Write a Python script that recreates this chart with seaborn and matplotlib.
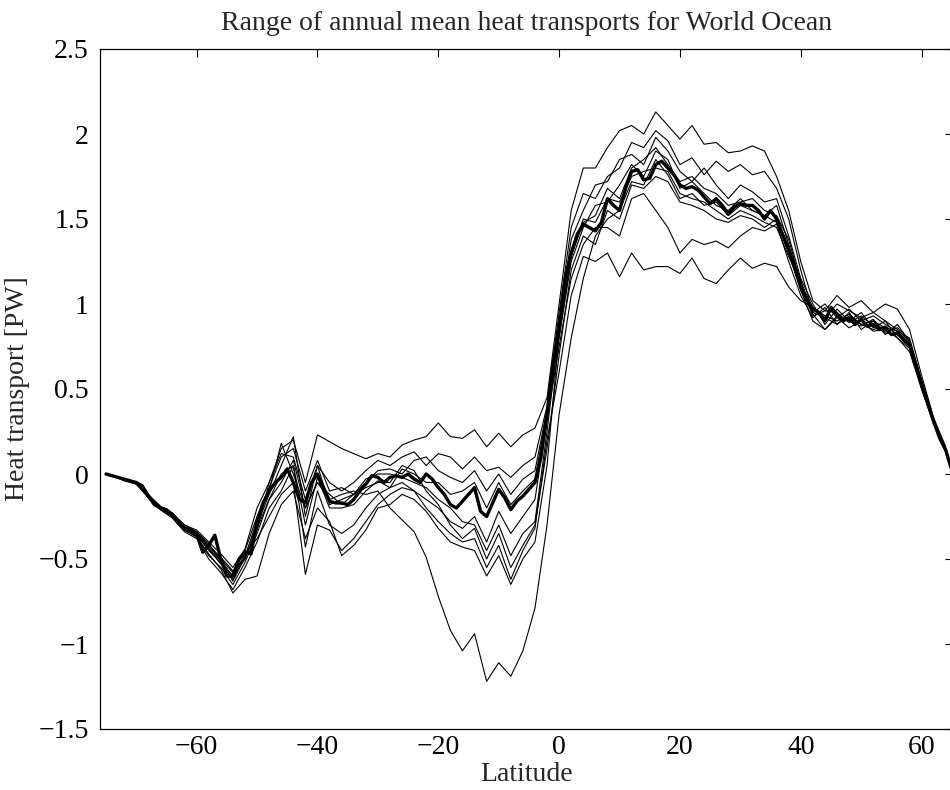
import numpy as np
import pandas as pd
import seaborn as sns
import matplotlib
matplotlib.use("Agg")
from matplotlib import pyplot as plt

# ensemble mean, 1 degree steps from -75 to 65
LAT_MEAN = np.arange(-75, 66, 1)
PW_MEAN = [
    0.00, -0.01, -0.02, -0.03, -0.04, -0.05, -0.07, -0.13, -0.18, -0.20,
    -0.21, -0.24, -0.29, -0.32, -0.33, -0.35, -0.46, -0.42, -0.36, -0.50,
    -0.60, -0.60, -0.50, -0.46, -0.47, -0.28, -0.17, -0.10, -0.05, -0.02,
    0.03, -0.05, -0.15, -0.17, -0.05, 0.00, -0.08, -0.16, -0.17, -0.17,
    -0.18, -0.15, -0.10, -0.06, -0.01, -0.02, -0.05, -0.02, -0.01, -0.02,
    0.00, -0.03, -0.05, 0.00, -0.03, -0.08, -0.12, -0.18, -0.20, -0.16,
    -0.12, -0.08, -0.22, -0.25, -0.17, -0.09, -0.14, -0.21, -0.16, -0.13,
    -0.09, -0.05, 0.10, 0.35, 0.65, 0.85, 1.15, 1.30, 1.41, 1.47,
    1.45, 1.43, 1.48, 1.62, 1.58, 1.55, 1.68, 1.78, 1.79, 1.73,
    1.74, 1.82, 1.84, 1.80, 1.76, 1.70, 1.68, 1.69, 1.67, 1.63,
    1.59, 1.62, 1.58, 1.53, 1.57, 1.59, 1.58, 1.58, 1.55, 1.50,
    1.55, 1.50, 1.41, 1.32, 1.22, 1.12, 1.02, 0.97, 0.95, 0.90,
    0.98, 0.94, 0.90, 0.92, 0.88, 0.91, 0.87, 0.88, 0.85, 0.86,
    0.82, 0.83, 0.79, 0.76, 0.65, 0.53, 0.42, 0.31, 0.21, 0.14,
    0.02,
]

# individual runs, 2 degree steps from -74 to 64
LAT_RUN = np.arange(-74, 65, 2)

RUN_1 = [
    -0.01, -0.03, -0.05, -0.13, -0.19, -0.23, -0.30, -0.33, -0.40, -0.47, -0.55, -0.44, -0.20,
    -0.05, 0.15, 0.20, -0.05, 0.23, 0.19, 0.15, 0.12, 0.09, 0.12, 0.10, 0.17,
    0.20, 0.22, 0.30, 0.22, 0.21, 0.26, 0.16, 0.24, 0.16, 0.23, 0.27, 0.45,
    1.00, 1.55, 1.80, 1.80, 1.92, 2.02, 2.05, 2.00, 2.13, 2.05, 1.97, 2.05,
    1.94, 1.95, 1.89, 1.90, 1.93, 1.90, 1.75, 1.55, 1.25, 1.02, 0.96, 1.05,
    0.98, 1.02, 0.95, 1.00, 0.97, 0.85, 0.58, 0.33, 0.16,
]
RUN_2 = [
    -0.01, -0.03, -0.05, -0.14, -0.21, -0.25, -0.33, -0.36, -0.45, -0.52, -0.62, -0.48, -0.30,
    -0.12, 0.05, 0.22, -0.25, 0.05, -0.05, -0.10, -0.05, 0.02, 0.08, 0.05, 0.10,
    0.13, 0.05, 0.12, 0.10, 0.03, 0.10, 0.02, 0.04, -0.02, 0.05, 0.10, 0.40,
    0.95, 1.45, 1.65, 1.62, 1.75, 1.80, 1.95, 1.92, 2.02, 1.96, 1.82, 1.86,
    1.76, 1.84, 1.78, 1.82, 1.76, 1.78, 1.68, 1.50, 1.20, 0.95, 1.00, 0.92,
    0.97, 0.90, 0.93, 0.88, 0.84, 0.80, 0.55, 0.31, 0.15,
]
RUN_3 = [
    -0.01, -0.03, -0.06, -0.13, -0.20, -0.24, -0.31, -0.34, -0.43, -0.50, -0.58, -0.45, -0.25,
    -0.08, 0.10, 0.15, -0.10, 0.08, -0.10, -0.08, -0.12, -0.05, 0.02, 0.03, 0.00,
    0.08, 0.10, 0.02, -0.02, -0.05, 0.02, -0.10, 0.00, -0.12, -0.03, 0.02, 0.38,
    0.90, 1.38, 1.55, 1.70, 1.72, 1.85, 1.88, 1.82, 1.98, 1.90, 1.78, 1.72,
    1.80, 1.70, 1.62, 1.70, 1.66, 1.60, 1.62, 1.40, 1.15, 1.00, 0.88, 0.97,
    0.90, 0.95, 0.86, 0.90, 0.80, 0.74, 0.50, 0.30, 0.13,
]
RUN_4 = [
    -0.01, -0.03, -0.05, -0.12, -0.19, -0.25, -0.33, -0.37, -0.48, -0.55, -0.65, -0.52, -0.35,
    -0.15, 0.00, 0.05, -0.30, -0.02, -0.20, -0.20, -0.18, -0.10, -0.04, -0.08, 0.03,
    0.00, -0.05, -0.05, -0.12, -0.10, -0.05, -0.20, -0.05, -0.18, -0.10, -0.03, 0.36,
    0.80, 1.25, 1.45, 1.58, 1.60, 1.70, 1.82, 1.75, 1.90, 1.85, 1.68, 1.72,
    1.65, 1.58, 1.55, 1.62, 1.55, 1.52, 1.58, 1.35, 1.10, 0.95, 0.92, 0.88,
    0.93, 0.88, 0.85, 0.87, 0.82, 0.75, 0.52, 0.30, 0.14,
]
RUN_5 = [
    -0.01, -0.04, -0.06, -0.14, -0.21, -0.26, -0.34, -0.38, -0.50, -0.58, -0.68, -0.55, -0.40,
    -0.20, -0.10, 0.05, -0.43, -0.10, -0.30, -0.35, -0.30, -0.20, -0.12, -0.08, -0.05,
    -0.10, -0.15, -0.20, -0.28, -0.32, -0.25, -0.40, -0.22, -0.35, -0.25, -0.15, 0.32,
    0.75, 1.15, 1.35, 1.45, 1.45, 1.40, 1.62, 1.65, 1.55, 1.45, 1.30, 1.38,
    1.35, 1.37, 1.33, 1.40, 1.45, 1.43, 1.47, 1.25, 1.05, 0.92, 0.98, 0.88,
    0.95, 0.85, 0.90, 0.82, 0.88, 0.78, 0.52, 0.30, 0.14,
]
RUN_6 = [
    -0.01, -0.03, -0.05, -0.13, -0.20, -0.23, -0.31, -0.35, -0.42, -0.49, -0.57, -0.50, -0.33,
    -0.05, 0.12, 0.10, -0.15, 0.05, -0.18, -0.15, -0.12, -0.03, 0.00, 0.00, -0.02,
    -0.05, -0.08, -0.15, -0.20, -0.28, -0.30, -0.45, -0.30, -0.48, -0.35, -0.28, 0.25,
    0.85, 1.30, 1.50, 1.48, 1.62, 1.60, 1.75, 1.78, 1.80, 1.78, 1.65, 1.62,
    1.60, 1.55, 1.50, 1.55, 1.52, 1.48, 1.45, 1.28, 1.12, 0.98, 0.93, 0.90,
    0.94, 0.88, 0.90, 0.86, 0.84, 0.77, 0.54, 0.31, 0.14,
]
RUN_7 = [
    -0.01, -0.03, -0.05, -0.13, -0.21, -0.24, -0.32, -0.36, -0.44, -0.53, -0.60, -0.47, -0.38,
    -0.25, -0.12, -0.05, -0.59, -0.30, -0.33, -0.45, -0.38, -0.28, -0.18, -0.12, -0.08,
    -0.10, -0.20, -0.28, -0.35, -0.40, -0.38, -0.55, -0.42, -0.62, -0.45, -0.32, 0.20,
    0.60, 1.05, 1.28, 1.25, 1.30, 1.16, 1.30, 1.20, 1.22, 1.22, 1.18, 1.27,
    1.15, 1.12, 1.20, 1.27, 1.21, 1.24, 1.22, 1.10, 1.02, 0.98, 0.92, 1.00,
    0.96, 0.92, 0.95, 0.90, 0.85, 0.78, 0.55, 0.32, 0.15,
]
RUN_8 = [
    -0.01, -0.03, -0.05, -0.12, -0.20, -0.25, -0.30, -0.34, -0.41, -0.51, -0.63, -0.49, -0.27,
    -0.10, 0.18, 0.00, -0.20, -0.05, -0.12, -0.18, -0.12, -0.08, -0.05, -0.05, 0.05,
    0.02, -0.10, -0.18, -0.30, -0.38, -0.32, -0.50, -0.35, -0.55, -0.42, -0.30, 0.15,
    0.70, 1.20, 1.40, 1.35, 1.55, 1.50, 1.70, 1.68, 1.75, 1.72, 1.60, 1.58,
    1.55, 1.50, 1.48, 1.52, 1.50, 1.45, 1.50, 1.30, 1.08, 0.90, 0.85, 0.92,
    0.86, 0.90, 0.84, 0.85, 0.80, 0.72, 0.50, 0.29, 0.13,
]
RUN_9 = [
    -0.01, -0.03, -0.05, -0.13, -0.19, -0.24, -0.33, -0.37, -0.47, -0.56, -0.70, -0.62, -0.60,
    -0.35, -0.18, -0.10, -0.38, -0.20, -0.28, -0.48, -0.42, -0.33, -0.20, -0.18, -0.12,
    -0.15, -0.22, -0.32, -0.40, -0.43, -0.45, -0.60, -0.48, -0.65, -0.50, -0.40, 0.05,
    0.82, 1.28, 1.48, 1.52, 1.68, 1.62, 1.80, 1.85, 1.92, 1.82, 1.72, 1.75,
    1.68, 1.65, 1.58, 1.60, 1.62, 1.55, 1.52, 1.38, 1.12, 0.93, 0.96, 0.95,
    0.89, 0.93, 0.87, 0.84, 0.86, 0.79, 0.53, 0.31, 0.15,
]
RUN_10 = [
    -0.01, -0.03, -0.05, -0.13, -0.20, -0.24, -0.32, -0.35, -0.44, -0.51, -0.60, -0.50, -0.32,
    -0.15, -0.05, 0.08, -0.20, -0.05, -0.15, -0.12, -0.10, -0.12, -0.10, -0.20, -0.27,
    -0.34, -0.49, -0.72, -0.92, -1.04, -0.94, -1.22, -1.11, -1.19, -1.04, -0.79, -0.30,
    0.35, 0.80, 1.15, 1.40, 1.50, 1.55, 1.72, 1.70, 1.85, 1.76, 1.62, 1.65,
    1.58, 1.60, 1.52, 1.58, 1.55, 1.52, 1.48, 1.30, 1.08, 0.94, 0.85, 0.93,
    0.90, 0.87, 0.91, 0.83, 0.82, 0.75, 0.51, 0.30, 0.14,
]

RUNS = [RUN_1, RUN_2, RUN_3, RUN_4, RUN_5, RUN_6, RUN_7, RUN_8, RUN_9, RUN_10]

runs = pd.concat(
    [pd.DataFrame({"lat": LAT_RUN, "pw": r, "run": i}) for i, r in enumerate(RUNS)],
    ignore_index=True,
)
mean = pd.DataFrame({"lat": LAT_MEAN, "pw": PW_MEAN})

sns.set_theme(style="white")
plt.rcParams["font.family"] = ["Liberation Serif", "DejaVu Serif"]
plt.rcParams["axes.unicode_minus"] = True

fig = plt.figure(figsize=(9.5, 7.9), dpi=100)
ax = fig.add_axes([100 / 950, 1 - 729 / 790, 853 / 950, 680 / 790])

sns.lineplot(data=runs, x="lat", y="pw", units="run", estimator=None,
             color="black", lw=0.8, ax=ax)
sns.lineplot(data=mean, x="lat", y="pw", color="black", lw=2.4, ax=ax)

ax.set_xlim(-76, 65.2)
ax.set_ylim(-1.5, 2.5)
ax.set_xticks([-60, -40, -20, 0, 20, 40, 60])
ax.set_yticks(np.arange(-1.5, 2.51, 0.5))
ax.set_yticklabels(["\u22121.5", "\u22121", "\u22120.5", "0", "0.5", "1", "1.5", "2", "2.5"])
ax.set_xticklabels(["\u221260", "\u221240", "\u221220", "0", "20", "40", "60"])
ax.tick_params(direction="in", top=True, right=True, length=6, width=0.8,
               labelsize=20, colors="black")
ax.tick_params(axis="x", pad=4)
ax.tick_params(axis="y", pad=8)
for s in ax.spines.values():
    s.set_color("black")
    s.set_linewidth(0.9)

ax.set_xlabel("Latitude", fontsize=20, labelpad=2)
ax.set_ylabel("Heat transport [PW]", fontsize=20, labelpad=6)
ax.set_title("Range of annual mean heat transports for World Ocean", fontsize=20, pad=14)

fig.savefig("out.png", dpi=100, facecolor="white")
